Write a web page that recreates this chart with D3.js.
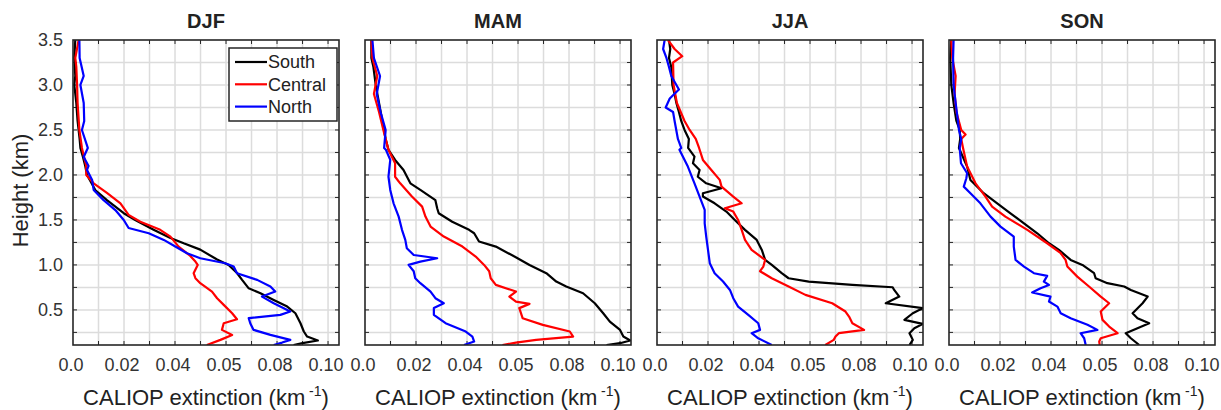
<!DOCTYPE html>
<html>
<head>
<meta charset="utf-8">
<script src="https://cdn.jsdelivr.net/npm/d3@7"></script>
<style>
  body { margin: 0; background: #fff; }
  svg { display: block; font-family: Arial, "Liberation Sans", sans-serif; }
</style>
</head>
<body>
<svg width="1221" height="410"></svg>
<script>
// seasons / regions
const seasons = ["DJF", "MAM", "JJA", "SON"];
const regions = ["South", "Central", "North"];
const regionColors = ["#000000", "#ff0000", "#0000ff"];

// ticks (the 0.06 tick is printed as "0.05" in the source figure)
const xTickValues = [0, 0.02, 0.04, 0.06, 0.08, 0.10];
const xTickLabels = ["0.0", "0.02", "0.04", "0.05", "0.08", "0.10"];
const yTickValues = [0.5, 1.0, 1.5, 2.0, 2.5, 3.0, 3.5];
const yTickLabels = ["0.5", "1.0", "1.5", "2.0", "2.5", "3.0", "3.5"];

// profiles: [height km, extinction km-1]
const djfSouth = [[3.5,0.0009],[3.3,0.0005],[3.1,0.0009],[3.0,0.0005],[2.8,0.0013],[2.6,0.0018],[2.4,0.0026],[2.3,0.0029],[2.2,0.0039],[2.1,0.0048],[2.0,0.0055],[1.83,0.0088],[1.72,0.0133],[1.575,0.0199],[1.5,0.0244],[1.39,0.0316],[1.3,0.0382],[1.24,0.0434],[1.17,0.0499],[1.06,0.0565],[1.0,0.061],[0.91,0.0643],[0.834,0.0663],[0.74,0.0689],[0.685,0.0735],[0.61,0.0787],[0.537,0.084],[0.463,0.0872],[0.352,0.0892],[0.26,0.0905],[0.204,0.0918],[0.16,0.096],[0.13,0.09],[0.11,0.0865]];
const djfCentral = [[3.5,0.0022],[3.3,0.0009],[3.2,0.0013],[3.0,0.0016],[2.8,0.0018],[2.5,0.0025],[2.3,0.0035],[2.1,0.0052],[2.0,0.0052],[1.907,0.0081],[1.8,0.0133],[1.685,0.0186],[1.556,0.0218],[1.48,0.0264],[1.39,0.0342],[1.315,0.0382],[1.204,0.0414],[1.1,0.046],[1.037,0.048],[1.0,0.0489],[0.908,0.0473],[0.852,0.048],[0.797,0.0499],[0.704,0.0545],[0.63,0.0565],[0.556,0.0591],[0.463,0.0624],[0.396,0.0643],[0.352,0.0591],[0.278,0.0584],[0.222,0.0624],[0.167,0.0578],[0.11,0.0525]];
const djfNorth = [[3.5,0.0025],[3.3,0.0026],[3.1,0.0042],[3.0,0.0029],[2.8,0.0042],[2.6,0.0044],[2.5,0.0035],[2.3,0.0058],[2.2,0.0042],[2.1,0.0061],[2.056,0.0055],[1.945,0.0075],[1.834,0.0081],[1.72,0.012],[1.61,0.0166],[1.5,0.0199],[1.41,0.0218],[1.352,0.0297],[1.278,0.0356],[1.204,0.0401],[1.13,0.0447],[1.074,0.0499],[1.019,0.0597],[0.982,0.063],[0.908,0.0643],[0.834,0.0722],[0.76,0.0774],[0.704,0.0793],[0.648,0.0741],[0.574,0.0787],[0.482,0.0852],[0.445,0.0813],[0.408,0.0689],[0.352,0.0695],[0.278,0.0708],[0.222,0.0774],[0.167,0.0852],[0.137,0.082],[0.11,0.0787]];

const mamSouth = [[3.5,0.0025],[3.3,0.0025],[3.2,0.0033],[3.0,0.0042],[2.8,0.0055],[2.6,0.0068],[2.4,0.0081],[2.28,0.0092],[2.167,0.0118],[2.056,0.0151],[1.907,0.0178],[1.834,0.0217],[1.72,0.0276],[1.63,0.0283],[1.574,0.0289],[1.48,0.0342],[1.39,0.0408],[1.352,0.0428],[1.26,0.0447],[1.204,0.0513],[1.093,0.0586],[1.0,0.0645],[0.908,0.0711],[0.815,0.075],[0.76,0.0789],[0.685,0.0855],[0.574,0.0901],[0.463,0.0934],[0.37,0.096],[0.278,0.1],[0.204,0.1013],[0.16,0.104],[0.13,0.1],[0.11,0.0947]];
const mamCentral = [[3.5,0.0025],[3.3,0.0029],[3.1,0.0048],[2.9,0.0035],[2.7,0.0055],[2.5,0.0072],[2.4,0.0081],[2.28,0.0092],[2.13,0.0118],[1.98,0.0118],[1.907,0.0138],[1.76,0.0184],[1.648,0.0224],[1.537,0.0237],[1.426,0.0257],[1.315,0.0309],[1.204,0.0382],[1.093,0.0434],[1.0,0.0467],[0.93,0.0487],[0.852,0.0493],[0.778,0.0513],[0.704,0.0592],[0.648,0.0566],[0.593,0.0592],[0.567,0.0645],[0.52,0.0605],[0.408,0.0618],[0.334,0.0697],[0.26,0.0803],[0.204,0.0816],[0.167,0.0671],[0.137,0.0592],[0.11,0.0539]];
const mamNorth = [[3.5,0.0029],[3.3,0.0035],[3.1,0.0059],[2.9,0.0046],[2.7,0.0061],[2.5,0.0081],[2.3,0.0075],[2.28,0.0082],[2.167,0.0099],[1.98,0.0092],[1.834,0.0099],[1.685,0.0112],[1.537,0.0132],[1.39,0.0145],[1.278,0.0158],[1.185,0.0164],[1.11,0.0191],[1.074,0.0283],[1.037,0.0217],[1.0,0.0171],[0.93,0.0191],[0.852,0.0197],[0.797,0.0217],[0.704,0.0257],[0.63,0.0276],[0.574,0.0309],[0.52,0.027],[0.445,0.027],[0.352,0.0316],[0.26,0.0395],[0.204,0.0421],[0.148,0.0428],[0.11,0.0388]];

const jjaSouth = [[3.5,0.0047],[3.4,0.0052],[3.3,0.0047],[3.2,0.0056],[3.0,0.006],[2.9,0.0069],[2.8,0.0076],[2.7,0.0086],[2.6,0.0095],[2.5,0.0108],[2.4,0.0125],[2.3,0.0122],[2.204,0.0147],[2.13,0.0141],[2.056,0.0167],[1.98,0.016],[1.907,0.0193],[1.852,0.0253],[1.797,0.018],[1.76,0.018],[1.685,0.0226],[1.593,0.0272],[1.5,0.0305],[1.39,0.0345],[1.278,0.0391],[1.167,0.0411],[1.056,0.0424],[1.0,0.045],[0.908,0.0489],[0.852,0.0516],[0.815,0.0595],[0.778,0.0766],[0.752,0.0924],[0.722,0.093],[0.648,0.095],[0.574,0.0897],[0.52,0.1042],[0.463,0.1003],[0.389,0.097],[0.345,0.1042],[0.297,0.1009],[0.241,0.099],[0.167,0.1003],[0.11,0.099]];
const jjaCentral = [[3.5,0.0043],[3.4,0.0069],[3.32,0.0099],[3.25,0.0063],[3.0,0.0065],[2.8,0.0078],[2.6,0.0108],[2.5,0.0128],[2.4,0.0152],[2.3,0.0165],[2.167,0.018],[2.056,0.0213],[1.945,0.0246],[1.87,0.0253],[1.76,0.0299],[1.685,0.0332],[1.63,0.0266],[1.593,0.0299],[1.5,0.0318],[1.39,0.0332],[1.278,0.0345],[1.167,0.0371],[1.056,0.0424],[0.982,0.0417],[0.93,0.0404],[0.852,0.045],[0.76,0.0516],[0.667,0.0582],[0.574,0.0687],[0.482,0.0739],[0.426,0.0753],[0.352,0.0766],[0.278,0.0812],[0.241,0.0713],[0.204,0.07],[0.167,0.0693],[0.11,0.066]];
const jjaNorth = [[3.5,0.003],[3.4,0.0024],[3.3,0.0037],[3.2,0.0047],[3.1,0.0056],[3.0,0.0076],[2.95,0.0086],[2.85,0.005],[2.75,0.0034],[2.7,0.0063],[2.6,0.0069],[2.4,0.0082],[2.3,0.0095],[2.28,0.0088],[2.093,0.0121],[1.907,0.0147],[1.76,0.0167],[1.611,0.0187],[1.463,0.0187],[1.315,0.0193],[1.167,0.02],[1.019,0.0207],[0.908,0.0226],[0.815,0.0259],[0.722,0.0286],[0.63,0.0299],[0.537,0.0318],[0.445,0.0358],[0.352,0.0397],[0.278,0.0404],[0.241,0.0371],[0.185,0.0397],[0.11,0.045]];

const sonSouth = [[3.5,0.0009],[3.3,0.0005],[3.0,0.0009],[2.8,0.0018],[2.6,0.0029],[2.5,0.0042],[2.4,0.0044],[2.3,0.0039],[2.093,0.0071],[1.945,0.0084],[1.907,0.0097],[1.797,0.0136],[1.685,0.0189],[1.574,0.0241],[1.463,0.0294],[1.352,0.0346],[1.241,0.0392],[1.167,0.0431],[1.056,0.0477],[1.0,0.0523],[0.908,0.0569],[0.852,0.0575],[0.797,0.0621],[0.76,0.0687],[0.722,0.0713],[0.648,0.0779],[0.574,0.0759],[0.463,0.072],[0.408,0.0739],[0.352,0.0785],[0.297,0.0739],[0.241,0.0693],[0.185,0.0713],[0.11,0.0746]];
const sonCentral = [[3.5,0.0009],[3.3,0.0013],[3.1,0.0026],[2.9,0.0022],[2.7,0.0029],[2.5,0.0048],[2.45,0.0065],[2.4,0.0048],[2.3,0.0055],[2.093,0.0071],[1.907,0.0104],[1.76,0.0143],[1.648,0.0169],[1.537,0.0221],[1.39,0.0307],[1.241,0.0385],[1.13,0.0438],[1.056,0.0457],[0.982,0.0464],[0.87,0.0503],[0.76,0.0549],[0.648,0.0595],[0.574,0.0628],[0.482,0.0595],[0.389,0.0602],[0.315,0.0628],[0.241,0.0661],[0.185,0.0595],[0.148,0.0589],[0.11,0.0591]];
const sonNorth = [[3.5,0.0018],[3.3,0.0016],[3.0,0.0018],[2.8,0.0026],[2.6,0.0035],[2.5,0.0039],[2.4,0.0048],[2.3,0.0042],[2.13,0.0047],[2.019,0.0071],[1.963,0.0068],[1.87,0.0058],[1.797,0.0084],[1.685,0.0123],[1.537,0.0163],[1.426,0.0202],[1.315,0.0254],[1.204,0.0254],[1.056,0.0261],[0.982,0.0294],[0.908,0.0333],[0.878,0.0385],[0.815,0.0372],[0.778,0.0392],[0.741,0.0359],[0.693,0.0326],[0.648,0.0398],[0.593,0.0392],[0.537,0.0425],[0.463,0.0438],[0.408,0.0477],[0.334,0.0543],[0.278,0.0582],[0.241,0.0516],[0.185,0.053],[0.11,0.0536]];

const profiles = [
  [djfSouth, djfCentral, djfNorth],
  [mamSouth, mamCentral, mamNorth],
  [jjaSouth, jjaCentral, jjaNorth],
  [sonSouth, sonCentral, sonNorth]
];

const svg = d3.select("svg");
const marginTop = 40, plotH = 305, plotW = 266, left0 = 73, step = 292;
const axisColor = "#262626", gridColor = "#dcdcdc";

const x = d3.scaleLinear().domain([0, 0.1043]).range([0, plotW]);
const y = d3.scaleLinear().domain([0.11, 3.5]).range([plotH, 0]);

const xGrid = d3.range(1, 11).map(i => i / 100);
const yGrid = d3.range(1, 14).map(i => i * 0.25);

const line = d3.line()
    .x(d => x(d[1]))
    .y(d => y(d[0]));

seasons.forEach((season, si) => {
  const g = svg.append("g")
      .attr("transform", `translate(${left0 + si * step},${marginTop})`);

  g.append("clipPath").attr("id", "clip" + si)
    .append("rect").attr("width", plotW).attr("height", plotH);

  // grid
  g.append("g").selectAll("line")
    .data(xGrid)
    .join("line")
      .attr("x1", d => x(d)).attr("x2", d => x(d))
      .attr("y1", 0).attr("y2", plotH)
      .attr("stroke", gridColor).attr("stroke-width", 1.5);
  g.append("g").selectAll("line")
    .data(yGrid)
    .join("line")
      .attr("y1", d => y(d)).attr("y2", d => y(d))
      .attr("x1", 0).attr("x2", plotW)
      .attr("stroke", gridColor).attr("stroke-width", 1.5);

  // inward ticks on all sides
  const tk = g.append("g").attr("stroke", axisColor).attr("stroke-width", 1);
  xGrid.forEach(d => {
    tk.append("line").attr("x1", x(d)).attr("x2", x(d)).attr("y1", 0).attr("y2", 4);
    tk.append("line").attr("x1", x(d)).attr("x2", x(d)).attr("y1", plotH).attr("y2", plotH - 4);
  });
  yGrid.forEach(d => {
    tk.append("line").attr("y1", y(d)).attr("y2", y(d)).attr("x1", 0).attr("x2", 4);
    tk.append("line").attr("y1", y(d)).attr("y2", y(d)).attr("x1", plotW).attr("x2", plotW - 4);
  });

  // profiles
  g.append("g").attr("clip-path", `url(#clip${si})`)
    .selectAll("path")
    .data(profiles[si])
    .join("path")
      .attr("fill", "none")
      .attr("stroke", (d, i) => regionColors[i])
      .attr("stroke-width", 2.2)
      .attr("stroke-linejoin", "round")
      .attr("d", line);

  // frame
  g.append("rect")
      .attr("width", plotW).attr("height", plotH)
      .attr("fill", "none").attr("stroke", axisColor).attr("stroke-width", 1.6);

  // x tick labels
  g.append("g").selectAll("text")
    .data(xTickValues)
    .join("text")
      .attr("x", d => x(d) - 2)
      .attr("y", plotH + 26)
      .attr("text-anchor", "middle")
      .attr("fill", "#333")
      .style("font-size", "18px")
      .text((d, i) => xTickLabels[i]);

  // title
  g.append("text")
      .attr("x", plotW / 2)
      .attr("y", -12)
      .attr("text-anchor", "middle")
      .attr("fill", "#222")
      .style("font-size", "20px")
      .style("font-weight", "bold")
      .text(season);

  // x label
  const xl = g.append("text")
      .attr("x", plotW / 2)
      .attr("y", plotH + 60)
      .attr("text-anchor", "middle")
      .attr("fill", "#222")
      .style("font-size", "22px");
  xl.append("tspan").text("CALIOP extinction (km");
  xl.append("tspan").attr("dy", -9).style("font-size", "14px").text(" -1");
  xl.append("tspan").attr("dy", 9).text(")");

  if (si === 0) {
    g.append("g").selectAll("text")
      .data(yTickValues)
      .join("text")
        .attr("x", -10)
        .attr("y", d => y(d))
        .attr("dy", "0.36em")
        .attr("text-anchor", "end")
        .attr("fill", "#333")
        .style("font-size", "18px")
        .text((d, i) => yTickLabels[i]);

    g.append("text")
        .attr("transform", `translate(-45,${plotH / 2 - 2}) rotate(-90)`)
        .attr("text-anchor", "middle")
        .attr("fill", "#222")
        .style("font-size", "22px")
        .text("Height (km)");

    // legend
    const lg = g.append("g").attr("transform", "translate(156,8)");
    lg.append("rect")
        .attr("width", 108).attr("height", 73)
        .attr("fill", "#fff").attr("stroke", axisColor).attr("stroke-width", 1.5);
    regions.forEach((r, i) => {
      const ly = 14 + i * 22.3;
      lg.append("line")
          .attr("x1", 6).attr("x2", 38).attr("y1", ly).attr("y2", ly)
          .attr("stroke", regionColors[i]).attr("stroke-width", 2.2);
      lg.append("text")
          .attr("x", 39).attr("y", ly).attr("dy", "0.36em")
          .attr("fill", "#222")
          .style("font-size", "18px")
          .text(r);
    });
  }
});
</script>
</body>
</html>
